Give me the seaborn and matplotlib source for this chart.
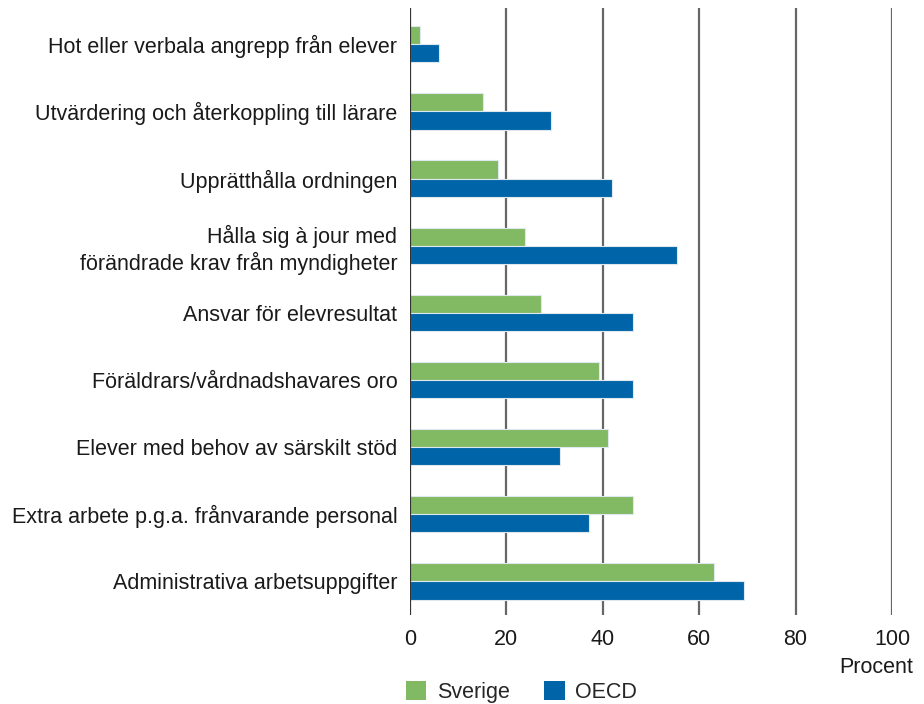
import matplotlib
matplotlib.use("Agg")
import matplotlib.pyplot as plt
import seaborn as sns
import pandas as pd
from matplotlib.patches import Patch

categories = [
    "Hot eller verbala angrepp från elever",
    "Utvärdering och återkoppling till lärare",
    "Upprätthålla ordningen",
    "Hålla sig à jour med\nförändrade krav från myndigheter",
    "Ansvar för elevresultat",
    "Föräldrars/vårdnadshavares oro",
    "Elever med behov av särskilt stöd",
    "Extra arbete p.g.a. frånvarande personal",
    "Administrativa arbetsuppgifter",
]
sverige = [2.0, 15.2, 18.2, 23.9, 27.2, 39.2, 41.1, 46.3, 63.1]
oecd = [6.1, 29.2, 42.0, 55.4, 46.3, 46.3, 31.1, 37.2, 69.3]
series = ["Sverige", "OECD"]
xticks = [0, 20, 40, 60, 80, 100]

colors = {"Sverige": "#82b963", "OECD": "#0064a8"}

df = pd.DataFrame({
    "Kategori": categories * 2,
    "Procent": sverige + oecd,
    "Serie": ["Sverige"] * len(categories) + ["OECD"] * len(categories),
})

sns.set_style("white")
plt.rcParams["font.family"] = ["Liberation Sans", "DejaVu Sans"]

fig = plt.figure(figsize=(9.24, 7.04), dpi=100)
ax = fig.add_axes([0.4437, 0.1264, 0.5217, 0.8622])

sns.barplot(data=df, y="Kategori", x="Procent", hue="Serie", hue_order=series,
            palette=colors, saturation=1, order=categories, orient="h", width=0.54,
            edgecolor="#dfe8ef", linewidth=0.8, ax=ax, legend=False, zorder=3)

ax.set_xlim(0, 100)
ax.set_ylim(8.5, -0.54)
ax.set_xticks(xticks)
ax.set_xticklabels([str(t) for t in xticks], fontsize=15.5, color="#1a1a1a")
ax.tick_params(axis="x", length=8, width=1.6, color="#666666", pad=2)
ax.tick_params(axis="y", length=0, pad=9, labelsize=15.5, labelcolor="#1a1a1a")
for lbl in ax.get_yticklabels():
    lbl.set_horizontalalignment("right")
    lbl.set_multialignment("right")
ax.set_xlabel("")
ax.set_ylabel("")
for x in xticks:
    ax.axvline(x, color="#333333" if x == 0 else "#666666", lw=1.6, zorder=1 if x else 4)
for s in ax.spines.values():
    s.set_visible(False)

fig.text(0.988, 0.0375, "Procent", ha="right", va="bottom", fontsize=15.5, color="#1a1a1a")

handles = [Patch(facecolor=colors[s], edgecolor="none") for s in series]
fig.legend(handles, series, loc="lower left", bbox_to_anchor=(0.418, -0.026), ncol=2,
           frameon=False, fontsize=15.5, handlelength=0.95, handleheight=1.0,
           columnspacing=1.6, handletextpad=0.5)

fig.savefig("out.png", dpi=100)
